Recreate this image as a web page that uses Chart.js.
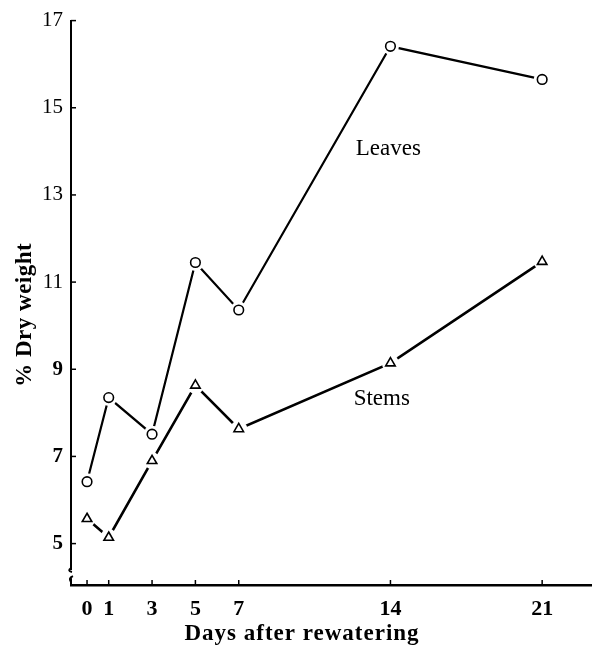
<!DOCTYPE html>
<html>
<head>
<meta charset="utf-8">
<script src="https://cdn.jsdelivr.net/npm/chart.js@4"></script>
<style>
  body { margin: 0; background: #fff; }
  #wrap { width: 592px; height: 651px; }
</style>
</head>
<body>
<div id="wrap"><canvas id="dryChart" width="592" height="651"></canvas></div>
<script>
// values
const days = [0, 1, 3, 5, 7, 14, 21];
const leaves = [6.42, 8.35, 7.51, 11.45, 10.36, 16.41, 15.65];
const stems = [5.57, 5.14, 6.90, 8.63, 7.63, 9.14, 11.47];
const xTicks = [0, 1, 3, 5, 7, 14, 21];
const yTicks = [5, 7, 9, 11, 13, 15, 17];
const seriesNames = ['Leaves', 'Stems'];
const xTitle = 'Days after rewatering';
const yTitle = '% Dry weight';

const serif = '"Liberation Serif", "DejaVu Serif", serif';
const pts = arr => days.map((d, i) => ({x: d, y: arr[i]}));

// text labels placed next to each curve (data coordinates)
const curveLabels = [
  {text: seriesNames[0], x: 13.9, y: 14.06},
  {text: seriesNames[1], x: 13.6, y: 8.31}
];

function lineSet(data, width) {
  return {data: data, borderColor: '#000', borderWidth: width, pointRadius: 0,
          fill: false, tension: 0, order: 3};
}
function maskSet(data) {
  return {data: data, showLine: false, pointRadius: 8.5, pointBorderWidth: 0,
          pointBackgroundColor: '#fff', pointBorderColor: '#fff', order: 2};
}
function markSet(data, style, r) {
  return {data: data, showLine: false, pointStyle: style, pointRadius: r,
          pointBorderWidth: 1.6, pointBorderColor: '#000', pointBackgroundColor: '#fff', order: 1};
}

const extras = {
  id: 'extras',
  afterDraw(chart) {
    const ctx = chart.ctx, xs = chart.scales.x, ys = chart.scales.y;
    const a = chart.chartArea;
    ctx.save();
    ctx.strokeStyle = '#000';
    ctx.lineWidth = 1.5;
    // inward ticks
    yTicks.forEach(v => {
      const py = ys.getPixelForValue(v);
      ctx.beginPath(); ctx.moveTo(a.left, py); ctx.lineTo(a.left + 5, py); ctx.stroke();
    });
    xTicks.forEach(v => {
      const px = xs.getPixelForValue(v);
      ctx.beginPath(); ctx.moveTo(px, a.bottom); ctx.lineTo(px, a.bottom - 5); ctx.stroke();
    });
    // axis break mark
    const by = ys.getPixelForValue(4.3);
    ctx.fillStyle = '#fff';
    ctx.fillRect(a.left - 3, by - 4, 6, 8);
    ctx.lineWidth = 2;
    ctx.beginPath();
    ctx.moveTo(a.left, by - 6);
    ctx.quadraticCurveTo(a.left - 4, by - 3, a.left + 1, by - 2);
    ctx.stroke();
    ctx.beginPath();
    ctx.moveTo(a.left + 2, by + 2);
    ctx.quadraticCurveTo(a.left - 3, by + 4, a.left, by + 8);
    ctx.stroke();
    // curve labels
    ctx.fillStyle = '#000';
    ctx.font = '23px ' + serif;
    ctx.textAlign = 'center';
    ctx.textBaseline = 'middle';
    curveLabels.forEach(l => {
      ctx.fillText(l.text, xs.getPixelForValue(l.x), ys.getPixelForValue(l.y));
    });
    // axis titles
    ctx.font = 'bold 23px ' + serif;
    ctx.letterSpacing = '1px';
    ctx.textBaseline = 'alphabetic';
    ctx.fillText(xTitle, 302, 640);
    ctx.translate(31, (a.top + a.bottom) / 2 + 12);
    ctx.rotate(-Math.PI / 2);
    ctx.font = 'bold 23px ' + serif;
    ctx.letterSpacing = '0.5px';
    ctx.fillText(yTitle, 0, 0);
    ctx.restore();
  }
};

new Chart(document.getElementById('dryChart'), {
  type: 'line',
  data: {
    datasets: [
      lineSet(pts(leaves), 2.2),
      lineSet(pts(stems), 2.6),
      maskSet(pts(leaves)),
      maskSet(pts(stems)),
      markSet(pts(leaves), 'circle', 4.8),
      markSet(pts(stems), 'triangle', 5.5)
    ]
  },
  options: {
    responsive: false,
    animation: false,
    layout: {autoPadding: false, padding: {top: 18, left: 0, right: 0, bottom: 0}},
    plugins: {legend: {display: false}, tooltip: {enabled: false}},
    scales: {
      x: {
        type: 'linear',
        min: -0.74,
        max: 23.3,
        afterFit: s => { s.height = 66; s.paddingRight = 0; s.paddingLeft = 0; },
        afterBuildTicks: s => { s.ticks = xTicks.map(v => ({value: v})); },
        grid: {display: true, drawOnChartArea: false, drawTicks: false},
        border: {color: '#000', width: 2.5},
        ticks: {
          autoSkip: false, maxRotation: 0, padding: 11, color: '#000',
          font: {family: serif, size: 22, weight: 'bold'}
        },
        title: {display: false}
      },
      y: {
        min: 4.05,
        max: 17,
        afterFit: s => { s.width = 71; },
        afterBuildTicks: s => { s.ticks = yTicks.map(v => ({value: v})); },
        grid: {display: true, drawOnChartArea: false, drawTicks: false},
        border: {color: '#000', width: 2},
        ticks: {
          padding: 8, color: '#000',
          font: ctx => ({family: serif, size: 21, weight: ctx.tick && ctx.tick.value <= 9 ? 'bold' : 'normal'})
        },
        title: {display: false}
      }
    }
  },
  plugins: [extras]
});
</script>
</body>
</html>
